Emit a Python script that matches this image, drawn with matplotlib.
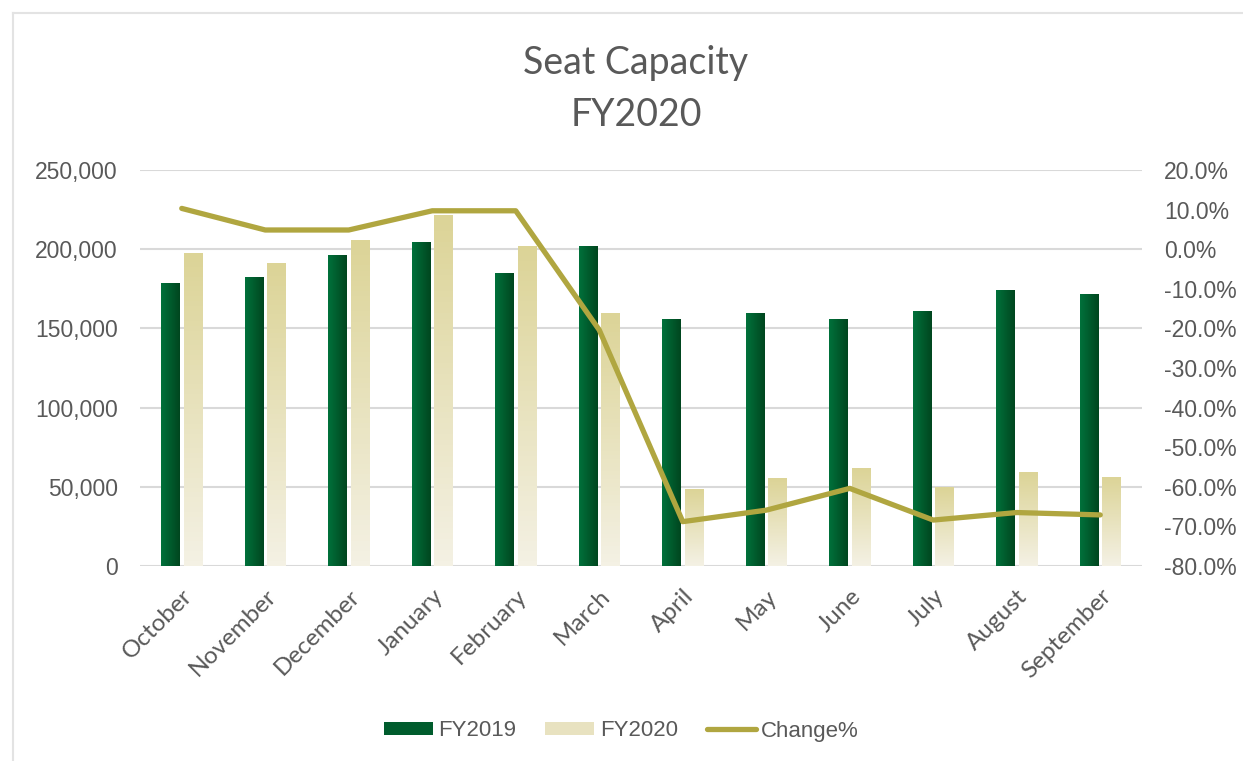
import numpy as np
import matplotlib
matplotlib.use('Agg')
import matplotlib.pyplot as plt
from matplotlib.colors import LinearSegmentedColormap
from matplotlib.patches import Patch
from matplotlib.lines import Line2D
from matplotlib.ticker import FuncFormatter, MultipleLocator

months = ['October', 'November', 'December', 'January', 'February', 'March',
          'April', 'May', 'June', 'July', 'August', 'September']
fy2019 = [178500, 182300, 196500, 204700, 184800, 202000,
          156100, 159900, 156100, 161200, 174500, 171700]
fy2020 = [197800, 191300, 205800, 221600, 201800, 159900,
          48800, 55300, 61600, 49700, 59100, 56400]
change = [10.3, 4.85, 4.85, 9.7, 9.7, -20.4,
          -68.8, -65.9, -60.4, -68.4, -66.5, -67.1]

txt = '#595959'
grid_c = '#d9d9d9'
line_c = '#b0a640'

fig = plt.figure(figsize=(12.43, 7.61), dpi=100)
ax = fig.add_axes([140/1243, 1-566/761, 1002/1243, 396/761])

x = np.arange(len(months))
w = 0.22
b1 = ax.bar(x - 0.135, fy2019, w, color='none', zorder=2)
b2 = ax.bar(x + 0.135, fy2020, w, color='none', zorder=2)

# gradient fills clipped to each bar
green = LinearSegmentedColormap.from_list('g', ['#00713b', '#00461f'])
tan = LinearSegmentedColormap.from_list('t', ['#f4f1e4', '#dcd497'])
hgrad = np.linspace(0, 1, 64).reshape(1, -1)
vgrad = np.linspace(0, 1, 64).reshape(-1, 1)
for p in b1.patches:
    x0, y0 = p.get_x(), p.get_y()
    im = ax.imshow(hgrad, cmap=green, aspect='auto', origin='lower',
                   extent=[x0, x0 + p.get_width(), y0, y0 + p.get_height()], zorder=2)
    im.set_clip_path(p)
for p in b2.patches:
    x0, y0 = p.get_x(), p.get_y()
    im = ax.imshow(vgrad, cmap=tan, aspect='auto', origin='lower',
                   extent=[x0, x0 + p.get_width(), y0, y0 + p.get_height()], zorder=2)
    im.set_clip_path(p)

ax.set_xlim(-0.5, len(months) - 0.5)
ax.set_ylim(0, 250000)
ax.yaxis.set_major_locator(MultipleLocator(50000))
ax.yaxis.set_major_formatter(FuncFormatter(lambda v, p: f'{int(v):,}'))
ax.grid(axis='y', color=grid_c, linewidth=1.5, zorder=0)
ax.set_axisbelow(True)
for s in ax.spines.values():
    s.set_visible(False)
ax.tick_params(length=0)
ax.tick_params(axis='y', pad=16, labelsize=16.5, labelcolor=txt)
ax.set_xticks(x)
ax.set_xticklabels(months, rotation=45, ha='right', rotation_mode='anchor',
                   fontsize=17.5, color=txt, family='Lato')
ax.tick_params(axis='x', pad=14)
for lab in ax.get_yticklabels():
    lab.set_family('Liberation Sans')

ax2 = ax.twinx()
ax2.plot(x, change, color=line_c, linewidth=3.8, solid_capstyle='round',
         solid_joinstyle='round', zorder=3)
ax2.set_ylim(-80, 20)
ax2.yaxis.set_major_locator(MultipleLocator(10))
ax2.yaxis.set_major_formatter(FuncFormatter(lambda v, p: f'{v:.1f}%'))
for s in ax2.spines.values():
    s.set_visible(False)
ax2.tick_params(length=0, pad=16, labelsize=16.5, labelcolor=txt)
for lab in ax2.get_yticklabels():
    lab.set_family('Liberation Sans')

fig.text(636/1243, 1-63/761, 'Seat Capacity', ha='center', va='center',
         fontsize=27, color=txt, family='Lato')
fig.text(636/1243, 1-115/761, 'FY2020', ha='center', va='center',
         fontsize=27, color=txt, family='Lato')

handles = [Patch(facecolor='#005c2d', edgecolor='none'),
           Patch(facecolor='#e8e2c0', edgecolor='none'),
           Line2D([], [], color=line_c, linewidth=3.8, solid_capstyle='round')]
fig.legend(handles, ['FY2019', 'FY2020', 'Change%'], loc='center',
           bbox_to_anchor=(0.5, 1-731/761), ncol=3, frameon=False,
           prop={'family': 'Liberation Sans', 'size': 16},
           labelcolor=txt, handlelength=2.2, handleheight=0.55,
           handletextpad=0.25, columnspacing=1.3)

# chart area border (top and left edges)
fig.add_artist(Line2D([13/1243, 1], [1-13/761, 1-13/761], color='#e3e3e3', linewidth=1.5))
fig.add_artist(Line2D([13/1243, 13/1243], [0, 1-13/761], color='#e3e3e3', linewidth=1.5))

fig.savefig('out.png', dpi=100)
